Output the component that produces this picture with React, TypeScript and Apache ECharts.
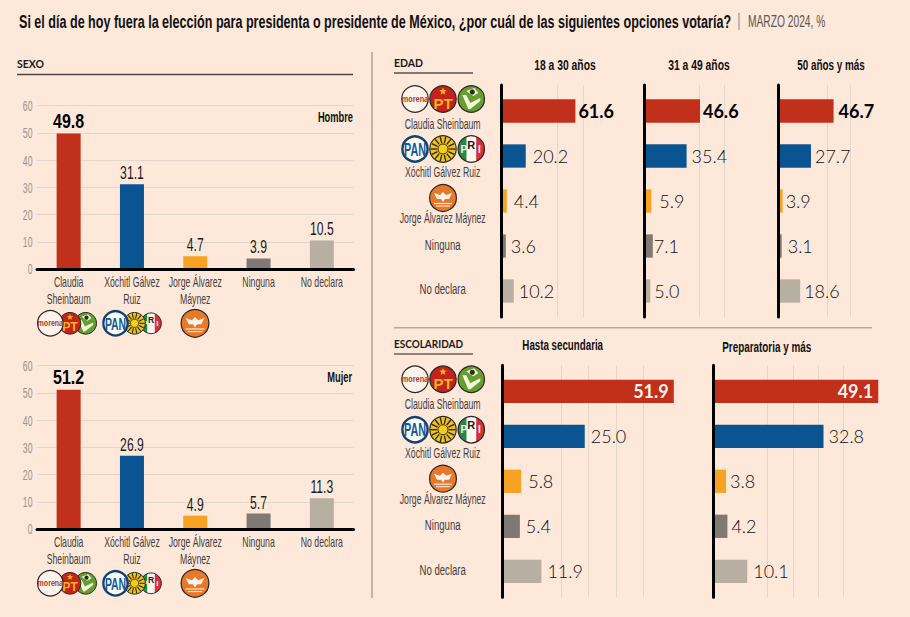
import React, { useEffect, useRef } from "react";
import * as echarts from "echarts";

const categories = ["Claudia Sheinbaum", "Xóchitl Gálvez Ruiz", "Jorge Álvarez Máynez", "Ninguna", "No declara"];
const axisCategories = [["Claudia", "Sheinbaum"], ["Xóchitl Gálvez", "Ruiz"], ["Jorge Álvarez", "Máynez"], ["Ninguna"], ["No declara"]];
const yTicks = [0, 10, 20, 30, 40, 50, 60];
const colors = ["#c0301b", "#0b5492", "#f6a222", "#7f7873", "#b8afa3"];

const hombre = [49.8, 31.1, 4.7, 3.9, 10.5];
const mujer = [51.2, 26.9, 4.9, 5.7, 11.3];
const edad18a30 = [61.6, 20.2, 4.4, 3.6, 10.2];
const edad31a49 = [46.6, 35.4, 5.9, 7.1, 5.0];
const edad50mas = [46.7, 27.7, 3.9, 3.1, 18.6];
const hastaSecundaria = [51.9, 25.0, 5.8, 5.4, 11.9];
const preparatoriaMas = [49.1, 32.8, 3.8, 4.2, 10.1];

const gridEdad1 = [24.6, 46.5, 68.2, 90.2];
const gridEdad2 = [24.2, 45.7, 66.8, 88.2];
const gridEdad3 = [22.1, 41.4, 61, 80.8];
const gridEsc1 = [9.46, 17.8, 26.2, 34.5, 42.8, 51.1];
const gridEsc2 = [8.66, 16.2, 23.7, 31.2, 38.8, 46.3];

const gapsEdad1 = [3, 7, 7, 5, 5];
const gapsEdad2 = [3, 5, 8, 1, 4];
const gapsEdad3 = [5, 4, 3, 6, 4];
const gapsEsc1 = [5, 6, 7, 6, 6];
const gapsEsc2 = [5, 5, 4, 4, 6];

const SANS = "'Liberation Sans', Arimo, sans-serif";
const WIDE = "Lato, 'Open Sans', sans-serif";
const GRIDCOL = "#e3d6ca";
const INK = "#1c1a19";
const SOFT = "#454140";

function txt(text: string, x: number, y: number, o: any = {}) {
  return {
    type: "text", x, y, scaleX: o.sx ?? 0.6, z: o.z ?? 10,
    style: {
      text, fontFamily: o.family ?? SANS, fontSize: o.size ?? 14.5, fontWeight: o.weight ?? "normal",
      fill: o.fill ?? SOFT, textAlign: o.align ?? "center", textVerticalAlign: "middle",
    },
  };
}
function ln(x1: number, y1: number, x2: number, y2: number, stroke: string, lineWidth: number) {
  return { type: "line", z: 10, shape: { x1, y1, x2, y2 }, style: { stroke, lineWidth } };
}
function seg(from: number, to: number, r: number) {
  const pts: number[][] = [];
  for (let i = 0; i <= 16; i++) {
    const a = from + ((to - from) * i) / 16;
    pts.push([r * Math.cos(a), r * Math.sin(a)]);
  }
  return pts;
}

function logo(kind: string, x: number, y: number, r: number, z = 20) {
  const line = "#2a2624";
  const t = (text: string, tx: number, ty: number, size: number, fill: string, sx = 1) => ({
    type: "text", x: tx, y: ty, scaleX: sx,
    style: { text, fontFamily: SANS, fontSize: size, fontWeight: "bold", fill, textAlign: "center", textVerticalAlign: "middle" },
  });
  let children: any[] = [];
  if (kind === "morena") {
    children = [
      { type: "circle", shape: { r: 13.2 }, style: { fill: "#fdf3ea", stroke: line, lineWidth: 1.2 } },
      t("morena", 0, 0, 8.5, "#a93a30", 0.86),
    ];
  } else if (kind === "pt") {
    const star: number[][] = [];
    for (let i = 0; i < 10; i++) {
      const a = -Math.PI / 2 + (i * Math.PI) / 5;
      const rr = i % 2 ? 1.7 : 4;
      star.push([rr * Math.cos(a), -7.5 + rr * Math.sin(a)]);
    }
    children = [
      { type: "circle", shape: { r: 13.2 }, style: { fill: "#c3231c", stroke: line, lineWidth: 1.2 } },
      { type: "polygon", shape: { points: star }, style: { fill: "#f6b21c" } },
      t("PT", 0, 4, 15, "#f6b21c"),
    ];
  } else if (kind === "verde") {
    children = [
      { type: "circle", shape: { r: 13.2 }, style: { fill: "#659f2f", stroke: line, lineWidth: 1.2 } },
      { type: "polygon", shape: { points: [[-9, -4], [-5, -4], [-1, 4], [9, -1], [9, 2], [-1, 10], [-3, 10]] }, style: { fill: "#f4f6dd" } },
      { type: "polygon", shape: { points: [[-5, -8], [3, -11], [7, -6], [2, -3], [-1, -5]] }, style: { fill: "#f4f6dd" } },
      { type: "circle", shape: { cx: 1, cy: -7, r: 2.6 }, style: { fill: "#26301c" } },
    ];
  } else if (kind === "pan") {
    children = [
      { type: "circle", shape: { r: 12.6 }, style: { fill: "#fdfbf5", stroke: "#12406f", lineWidth: 2.4 } },
      t("PAN", 0, 0.5, 18, "#0f5a9e", 0.6),
    ];
  } else if (kind === "prd") {
    const rays: any[] = [];
    for (let i = 0; i < 14; i++) {
      const a = (i * Math.PI) / 7;
      rays.push({ type: "line", shape: { x1: 6 * Math.cos(a), y1: 6 * Math.sin(a), x2: 12.4 * Math.cos(a), y2: 12.4 * Math.sin(a) }, style: { stroke: "#2a2412", lineWidth: 1.3 } });
    }
    children = [
      { type: "circle", shape: { r: 13.2 }, style: { fill: "#eec31d", stroke: line, lineWidth: 1.2 } },
      ...rays,
      { type: "circle", shape: { r: 5 }, style: { fill: "#f6cd1f", stroke: "#2a2412", lineWidth: 1 } },
    ];
  } else if (kind === "pri") {
    children = [
      { type: "circle", shape: { r: 13.2 }, style: { fill: "#fbf7ef" } },
      { type: "polygon", shape: { points: seg(Math.PI * 0.62, Math.PI * 1.38, 13.2) }, style: { fill: "#1f8a4c" } },
      { type: "polygon", shape: { points: seg(-Math.PI * 0.38, Math.PI * 0.38, 13.2) }, style: { fill: "#d92f3a" } },
      { type: "circle", shape: { r: 13.2 }, style: { fill: "none", stroke: line, lineWidth: 1.2 } },
      t("P", -7.4, 0, 10, "#fbf7ef"),
      t("R", 0, -4.5, 11, "#1c1a19"),
      t("I", 8, 0, 10, "#fbf7ef"),
    ];
  } else {
    children = [
      { type: "circle", shape: { r: 13.4 }, style: { fill: "#e8792a", stroke: line, lineWidth: 1.2 } },
      { type: "polygon", shape: { points: [[-9, -5], [-3, -3], [0, -6], [3, -3], [9, -5], [6, 1], [2, 1], [0, 4], [-2, 1], [-6, 1]] }, style: { fill: "#fdf3ea" } },
      { type: "line", shape: { x1: -9, y1: 5.5, x2: 9, y2: 5.5 }, style: { stroke: "#fdf3ea", lineWidth: 1.1 } },
      { type: "line", shape: { x1: -7, y1: 8, x2: 7, y2: 8 }, style: { stroke: "#fdf3ea", lineWidth: 1 } },
    ];
  }
  const s = r / 14;
  return { type: "group", x, y, scaleX: s, scaleY: s, z, children };
}

const grids: any[] = [];
const xAxes: any[] = [];
const yAxes: any[] = [];
const series: any[] = [];
const axisTexts: any[] = [];

const COL_LEFT = 37;
const COL_W = 316.5;
const COL_H = 163.3;

function columnChart(top: number, values: number[]) {
  const i = grids.length;
  grids.push({ left: COL_LEFT, top, width: COL_W, height: COL_H });
  xAxes.push({
    type: "category", gridIndex: i, data: axisCategories.map((c) => c.join(" ")), z: 5,
    axisLine: { lineStyle: { color: "#000", width: 3 } }, axisTick: { show: false },
    axisLabel: { show: false },
  });
  yAxes.push({
    type: "value", gridIndex: i, min: 0, max: 60, interval: 10,
    axisLine: { show: false }, axisTick: { show: false }, axisLabel: { show: false },
    splitLine: { lineStyle: { color: GRIDCOL, width: 1 } },
  });
  series.push({
    type: "bar", xAxisIndex: i, yAxisIndex: i, barWidth: 24,
    data: values.map((v, k) => ({ value: v, itemStyle: { color: colors[k] } })),
  });
  series.push({
    type: "custom", xAxisIndex: i, yAxisIndex: i, silent: true, z: 6,
    data: values.map((v, k) => [k, v]),
    encode: { x: 0, y: 1 },
    renderItem: (_: any, api: any) => {
      const p = api.coord([api.value(0), api.value(1)]);
      const first = api.value(0) === 0;
      return {
        type: "text", x: p[0], y: p[1] - 2, scaleX: first ? 0.8 : 0.64,
        style: {
          text: Number(api.value(1)).toFixed(1), fontFamily: SANS,
          fontSize: first ? 20 : 19, fontWeight: first ? "bold" : "normal", fill: first ? "#000" : INK,
          textAlign: "center", textVerticalAlign: "bottom",
        },
      };
    },
  });
  const bottom = top + COL_H;
  yTicks.forEach((t) => {
    axisTexts.push(txt(String(t), 32.5, bottom - (t / 60) * COL_H, { size: 14, fill: "#9a928b", align: "right", sx: 0.62 }));
  });
  axisCategories.forEach((lines, k) => {
    const cx = COL_LEFT + ((k + 0.5) * COL_W) / 5;
    lines.forEach((l, n) => axisTexts.push(txt(l, cx, bottom + 13 + n * 17.6, { size: 15, sx: 0.58 })));
  });
}

function barPanel(left: number, top: number, scale: number, domain: number, values: number[], gridVals: number[], gaps: number[], inside: boolean) {
  const width = scale * domain;
  const spineTop = top - 3.6;
  const spineHeight = 232;
  const i = grids.length;
  grids.push({ left, top: spineTop, width, height: spineHeight });
  xAxes.push({
    type: "value", gridIndex: i, min: 0, max: domain,
    axisLine: { show: false }, axisLabel: { show: false },
    axisTick: { show: false, customValues: gridVals },
    splitLine: { show: true, showMinLine: false, showMaxLine: false, lineStyle: { color: GRIDCOL, width: 1 } },
  });
  yAxes.push({
    type: "value", gridIndex: i, min: 0, max: 1, z: 5,
    axisLine: { show: true, onZero: false, lineStyle: { color: "#000", width: 3 } },
    axisTick: { show: false }, axisLabel: { show: false }, splitLine: { show: false },
  });
  const j = grids.length;
  grids.push({ left, top, width, height: 225 });
  xAxes.push({ type: "value", gridIndex: j, min: 0, max: domain, show: false });
  yAxes.push({ type: "category", gridIndex: j, data: categories, inverse: true, show: false });
  series.push({
    type: "bar", xAxisIndex: j, yAxisIndex: j, barWidth: 23.3,
    data: values.map((v, k) => ({
      value: v, itemStyle: { color: colors[k] },
      label: {
        show: true, position: inside && k === 0 ? "insideRight" : "right", distance: gaps[k],
        formatter: v.toFixed(1), fontFamily: WIDE, fontSize: 18,
        fontWeight: k === 0 ? "bold" : 300,
        color: inside && k === 0 ? "#fdf3ea" : k === 0 ? "#000" : "#111",
      },
    })),
  });
}

columnChart(105.7, hombre);
columnChart(365.7, mujer);
barPanel(501.5, 88.5, 1.2, 100, edad18a30, gridEdad1, gapsEdad1, false);
barPanel(644.3, 88.5, 1.195, 100, edad31a49, gridEdad2, gapsEdad2, false);
barPanel(778, 88.5, 1.19, 100, edad50mas, gridEdad3, gapsEdad3, false);
barPanel(502, 368.8, 3.31, 60, hastaSecundaria, gridEsc1, gapsEsc1, true);
barPanel(713.3, 368.8, 3.36, 55, preparatoriaMas, gridEsc2, gapsEsc2, true);

function rowCaptions(y1: number, y2: number, y3: number, y4: number, y5: number) {
  return [
    txt(categories[0], 442.7, y1),
    txt(categories[1], 442.7, y2),
    txt(categories[2], 442.7, y3),
    txt(categories[3], 442.7, y4, { size: 15.5, sx: 0.62 }),
    txt(categories[4], 442.7, y5, { size: 15.5, sx: 0.62 }),
  ];
}
function rowLogos(y1: number, y2: number, y3: number) {
  return [
    logo("verde", 471.3, y1, 14), logo("pt", 443, y1, 14), logo("morena", 415, y1, 14),
    logo("pri", 471.3, y2, 14), logo("prd", 443, y2, 14), logo("pan", 415, y2, 14),
    logo("mc", 443, y3, 14),
  ];
}
function underLogos(y: number) {
  return [
    logo("verde", 85.7, y, 11.5, 20), logo("pt", 70, y, 11.5, 21), logo("morena", 50.3, y, 13.5, 22),
    logo("pri", 151, y, 11, 20), logo("prd", 134.5, y, 11.5, 21), logo("pan", 115.5, y, 13.5, 22),
    logo("mc", 195, y, 14.5, 20),
  ];
}

const graphic = [
  txt("Si el día de hoy fuera la elección para presidenta o presidente de México, ¿por cuál de las siguientes opciones votaría?", 19, 21.5, { size: 18.5, weight: "bold", fill: "#111", align: "left", sx: 0.68 }),
  ln(739, 13, 739, 30, "#8a8480", 1),
  txt("MARZO 2024, %", 748, 22, { size: 16, fill: "#5a5654", align: "left", sx: 0.64 }),

  txt("SEXO", 17, 64, { size: 10.5, weight: "bold", fill: "#1c1a19", align: "left", family: "Lato", sx: 1 }),
  ln(17, 74.5, 353, 74.5, "#4a4543", 1.3),
  txt("Hombre", 353, 116.5, { size: 15.5, weight: "bold", fill: "#111", align: "right", sx: 0.6 }),
  txt("Mujer", 352, 377, { size: 15.5, weight: "bold", fill: "#111", align: "right", sx: 0.6 }),

  ln(372, 52, 372, 598, "#a89e94", 1.4),

  txt("EDAD", 394, 63, { size: 10.5, weight: "bold", fill: "#1c1a19", align: "left", family: "Lato", sx: 1 }),
  ln(394, 73, 473, 73, "#5a5350", 1.3),
  txt("18 a 30 años", 565, 65, { size: 15, weight: "bold", fill: "#111", sx: 0.69 }),
  txt("31 a 49 años", 699, 65, { size: 15, weight: "bold", fill: "#111", sx: 0.69 }),
  txt("50 años y más", 831, 65, { size: 15, weight: "bold", fill: "#111", sx: 0.66 }),
  ln(394, 327.7, 872, 327.7, "#b5a99c", 1.4),

  txt("ESCOLARIDAD", 394, 344, { size: 10.5, weight: "bold", fill: "#1c1a19", align: "left", family: "Lato", sx: 0.95 }),
  ln(394, 354, 473, 354, "#6a625c", 1.3),
  txt("Hasta secundaria", 562.7, 345.7, { size: 15, weight: "bold", fill: "#111", sx: 0.65 }),
  txt("Preparatoria y más", 766.7, 347, { size: 15, weight: "bold", fill: "#111", sx: 0.66 }),

  ...axisTexts,
  ...rowCaptions(124, 172, 218, 245, 289),
  ...rowCaptions(404, 453, 499, 525, 570),
  ...rowLogos(99, 149, 198),
  ...rowLogos(379.3, 429.7, 478.7),
  ...underLogos(323.3),
  ...underLogos(583.3),
];

export default function App() {
  const ref = useRef<HTMLDivElement>(null);
  useEffect(() => {
    const chart = echarts.init(ref.current!, undefined, { renderer: "svg" });
    chart.setOption({
      animation: false,
      backgroundColor: "#fde8da",
      grid: grids, xAxis: xAxes, yAxis: yAxes, series, graphic,
    });
    return () => chart.dispose();
  }, []);
  return <div ref={ref} style={{ position: "absolute", left: 0, top: 0, width: 910, height: 617 }} />;
}
